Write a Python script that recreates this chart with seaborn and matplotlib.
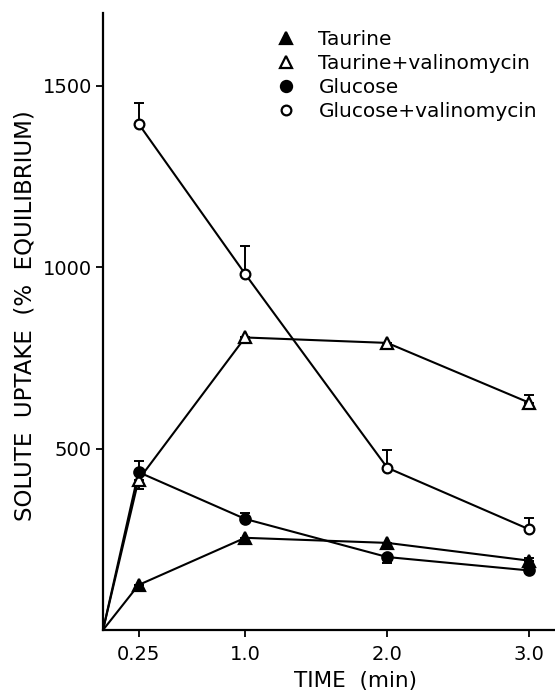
import numpy as np
import pandas as pd
import matplotlib
matplotlib.use("Agg")
import matplotlib.pyplot as plt
import seaborn as sns
from matplotlib.lines import Line2D

time = [0.0, 0.25, 1.0, 2.0, 3.0]
taurine = [0, 124, 254, 240, 191]
taurine_val = [0, 414, 806, 791, 626]
glucose = [0, 435, 306, 201, 164]
glucose_val = [np.nan, 1395, 981, 447, 277]

taurine_err_lo = [0, 0, 8, 0, 0]
taurine_err_hi = [0, 0, 0, 0, 8]
taurine_val_err_lo = [0, 26, 0, 0, 0]
taurine_val_err_hi = [0, 0, 0, 0, 22]
glucose_err_lo = [0, 0, 0, 16, 8]
glucose_err_hi = [0, 32, 16, 0, 0]
glucose_val_err_lo = [0, 0, 0, 0, 0]
glucose_val_err_hi = [0, 58, 78, 50, 32]

labels = ["Taurine", "Taurine+valinomycin", "Glucose", "Glucose+valinomycin"]

sns.set_theme(style="ticks")
plt.rcParams['font.family'] = ['DejaVu Sans']
plt.rcParams['text.color'] = 'black'

fig = plt.figure(figsize=(5.55, 6.95), dpi=100)
ax = fig.add_axes([103/555, 65/695, 452/555, 617/695])

series = [
    (taurine, taurine_err_lo, taurine_err_hi, "^", "black", 9),
    (taurine_val, taurine_val_err_lo, taurine_val_err_hi, "^", "white", 9),
    (glucose, glucose_err_lo, glucose_err_hi, "o", "black", 7.5),
    (glucose_val, glucose_val_err_lo, glucose_val_err_hi, "o", "white", 7),
]

for (vals, lo, hi, mk, fc, ms), lab in zip(series, labels):
    df = pd.DataFrame({"time": time, "value": vals})
    df = df.dropna()
    lo_a = np.array(lo, dtype=float)
    hi_a = np.array(hi, dtype=float)
    v = np.array(vals, dtype=float)
    mask = ~np.isnan(v)
    ax.errorbar(np.array(time)[mask], v[mask], yerr=[lo_a[mask], hi_a[mask]],
                fmt="none", ecolor="black", elinewidth=1.4, capsize=3.5, capthick=1.4, zorder=2)
    sns.lineplot(data=df, x="time", y="value", ax=ax, color="black", linewidth=1.5,
                 marker=None, legend=False, zorder=2)
    pts = df[df["time"] > 0]
    ax.plot(pts["time"], pts["value"], linestyle="none", marker=mk, ms=ms,
            mfc=fc, mec="black", mew=1.6, zorder=3)

ax.set_xlim(0, 3.18)
ax.set_ylim(0, 1700)
ax.set_xticks([0.25, 1.0, 2.0, 3.0])
ax.set_xticklabels(["0.25", "1.0", "2.0", "3.0"])
ax.set_yticks([500, 1000, 1500])
ax.set_yticklabels(["500", "1000", "1500"])
ax.tick_params(axis="both", direction="out", length=5, width=1.3, labelsize=14, colors="black")
ax.tick_params(axis="x", pad=6)
ax.tick_params(axis="y", pad=3)
for s in ["top", "right"]:
    ax.spines[s].set_visible(False)
for s in ["left", "bottom"]:
    ax.spines[s].set_linewidth(1.6)
    ax.spines[s].set_color("black")

ax.set_xlabel("TIME  (min)", fontsize=15.5, color="black")
ax.set_ylabel("SOLUTE  UPTAKE  (%  EQUILIBRIUM)", fontsize=16.5, color="black")
ax.xaxis.set_label_coords((356 - 103) / 452, -0.066)
ax.yaxis.set_label_coords(-0.147, 0.51)

handles = [
    Line2D([], [], linestyle="none", marker="^", ms=9, mfc="black", mec="black", mew=1.6),
    Line2D([], [], linestyle="none", marker="^", ms=9, mfc="white", mec="black", mew=1.6),
    Line2D([], [], linestyle="none", marker="o", ms=8, mfc="black", mec="black", mew=1.6),
    Line2D([], [], linestyle="none", marker="o", ms=7, mfc="white", mec="black", mew=1.6),
]
ax.legend(handles, labels, loc="upper left", bbox_to_anchor=((262 - 103) / 452, 0.995),
          frameon=False, fontsize=14.5, handlelength=1.0, handletextpad=1.1,
          labelspacing=0.24, borderaxespad=0.3, labelcolor="black")

fig.savefig("out.png", dpi=100, facecolor="white")
